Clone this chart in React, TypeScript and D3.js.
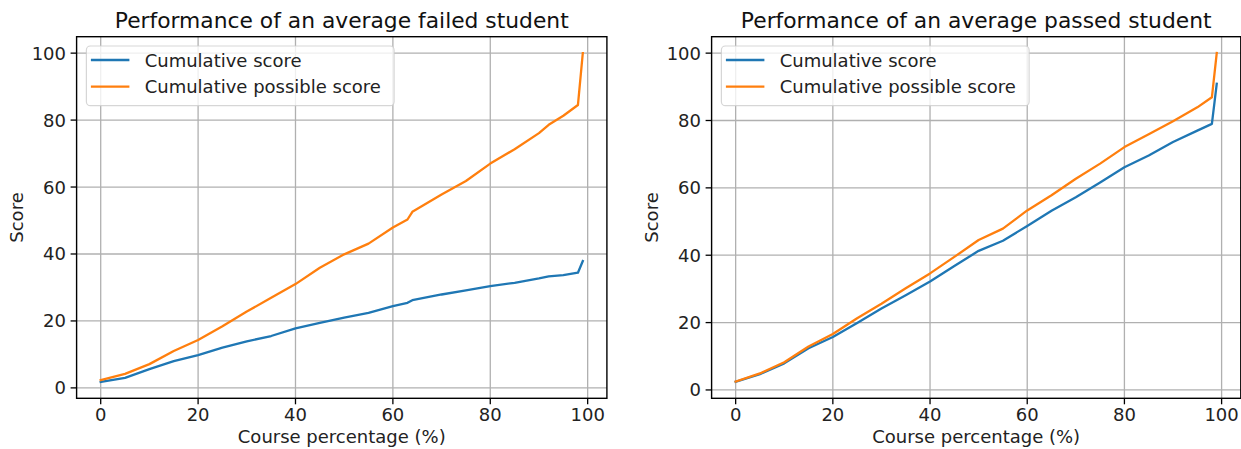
import React from "react";
import * as d3 from "d3";

// ---- data ----
const failedX = [0, 5, 10, 15, 20, 25, 30, 35, 40, 45, 50, 55, 60, 63, 64, 70, 75, 80, 85, 90, 92, 95, 98, 99];
const failedScore = [1.8, 3.0, 5.6, 8.0, 9.8, 12.0, 13.9, 15.5, 17.8, 19.4, 21.0, 22.4, 24.4, 25.4, 26.2, 27.9, 29.1, 30.4, 31.4, 32.7, 33.3, 33.7, 34.4, 37.9];
const failedPossible = [2.3, 4.2, 7.1, 11.0, 14.3, 18.4, 22.8, 26.9, 31.0, 35.9, 39.9, 43.1, 47.9, 50.3, 52.6, 57.8, 61.8, 67.0, 71.3, 76.1, 78.6, 81.3, 84.5, 100];

const passedX = [0, 5, 10, 15, 20, 25, 30, 35, 40, 45, 50, 55, 60, 65, 70, 75, 80, 85, 90, 95, 98, 99];
const passedScore = [2.4, 4.7, 7.9, 12.4, 15.7, 19.9, 24.2, 28.1, 32.2, 36.8, 41.3, 44.3, 48.7, 53.2, 57.2, 61.6, 66.1, 69.6, 73.6, 77.0, 79.0, 90.9];
const passedPossible = [2.5, 4.9, 8.2, 12.9, 16.6, 21.3, 25.6, 30.2, 34.6, 39.5, 44.5, 47.9, 53.3, 57.8, 62.7, 67.2, 72.1, 75.9, 79.8, 83.9, 86.9, 100];

const tickValues = [0, 20, 40, 60, 80, 100];
const seriesNames = ["Cumulative score", "Cumulative possible score"];
const seriesColors = ["#1f77b4", "#ff7f0e"];
const titles = ["Performance of an average failed student", "Performance of an average passed student"];
const xLabel = "Course percentage (%)";
const yLabel = "Score";

const FONT = "'DejaVu Sans', sans-serif";

function mplDomain(vals: number[]): [number, number] {
  const lo = d3.min(vals)!;
  const hi = d3.max(vals)!;
  const m = (hi - lo) * 0.05;
  return [lo - m, hi + m];
}

type PanelProps = {
  left: number;
  right: number;
  title: string;
  xs: number[];
  a: number[];
  b: number[];
};

function Panel({ left, right, title, xs, a, b }: PanelProps) {
  const top = 36.7;
  const bottom = 398.3;
  const x = d3.scaleLinear().domain(mplDomain(xs)).range([left, right]);
  const y = d3.scaleLinear().domain(mplDomain([...a, ...b])).range([bottom, top]);
  const line = d3
    .line<[number, number]>()
    .x((d) => x(d[0]))
    .y((d) => y(d[1]));
  const series = [a, b];
  const cx = (left + right) / 2;
  const cy = (top + bottom) / 2;
  const lgX = left + 9.8;
  const lgY = 46;
  return (
    <g>
      <defs>
        <clipPath id={`clip-${left}`}>
          <rect x={left} y={top} width={right - left} height={bottom - top} />
        </clipPath>
      </defs>
      {/* grid */}
      {tickValues.map((t) => (
        <line key={`gx${t}`} x1={x(t)} x2={x(t)} y1={top} y2={bottom} stroke="#b0b0b0" strokeWidth={1.3} />
      ))}
      {tickValues.map((t) => (
        <line key={`gy${t}`} x1={left} x2={right} y1={y(t)} y2={y(t)} stroke="#b0b0b0" strokeWidth={1.3} />
      ))}
      {/* lines */}
      <g clipPath={`url(#clip-${left})`}>
        {series.map((s, i) => (
          <path
            key={i}
            d={line(xs.map((v, j) => [v, s[j]] as [number, number])) || ""}
            fill="none"
            stroke={seriesColors[i]}
            strokeWidth={2.3}
            strokeLinejoin="round"
            strokeLinecap="square"
          />
        ))}
      </g>
      {/* spines */}
      <rect x={left} y={top} width={right - left} height={bottom - top} fill="none" stroke="#000" strokeWidth={1.4} />
      {/* ticks */}
      {tickValues.map((t) => (
        <g key={`tx${t}`}>
          <line x1={x(t)} x2={x(t)} y1={bottom} y2={bottom + 6} stroke="#000" strokeWidth={1.3} />
          <text x={x(t)} y={421} textAnchor="middle" fontSize={18} fontFamily={FONT} fill="#222">
            {t}
          </text>
        </g>
      ))}
      {tickValues.map((t) => (
        <g key={`ty${t}`}>
          <line x1={left - 6} x2={left} y1={y(t)} y2={y(t)} stroke="#000" strokeWidth={1.3} />
          <text x={left - 10.6} y={y(t) + 6.5} textAnchor="end" fontSize={18} fontFamily={FONT} fill="#222">
            {t}
          </text>
        </g>
      ))}
      {/* labels */}
      <text x={cx} y={28} textAnchor="middle" fontSize={21.8} fontFamily={FONT} fill="#111">
        {title}
      </text>
      <text x={cx} y={443} textAnchor="middle" fontSize={18} fontFamily={FONT} fill="#222">
        {xLabel}
      </text>
      <text
        transform={`translate(${left - 53.5},${cy}) rotate(-90)`}
        textAnchor="middle"
        fontSize={18}
        fontFamily={FONT}
        fill="#222"
      >
        {yLabel}
      </text>
      {/* legend */}
      <rect x={lgX} y={lgY} width={307.7} height={59.7} rx={4} fill="#fff" fillOpacity={0.8} stroke="#cccccc" strokeOpacity={0.8} strokeWidth={1.2} />
      {seriesNames.map((n, i) => {
        const ly = 60 + i * 26.7;
        return (
          <g key={n}>
            <line x1={lgX + 4.5} x2={lgX + 43} y1={ly} y2={ly} stroke={seriesColors[i]} strokeWidth={2.3} />
            <text x={lgX + 58.3} y={ly + 6.5} fontSize={18} fontFamily={FONT} fill="#222">
              {n}
            </text>
          </g>
        );
      })}
    </g>
  );
}

export default function App() {
  return (
    <svg
      width={1241}
      height={449}
      style={{ position: "absolute", left: 0, top: 0, background: "#fff" }}
    >
      <rect x={0} y={0} width={1241} height={449} fill="#fff" />
      <Panel left={76.6} right={606.9} title={titles[0]} xs={failedX} a={failedScore} b={failedPossible} />
      <Panel left={711.6} right={1240.8} title={titles[1]} xs={passedX} a={passedScore} b={passedPossible} />
    </svg>
  );
}
